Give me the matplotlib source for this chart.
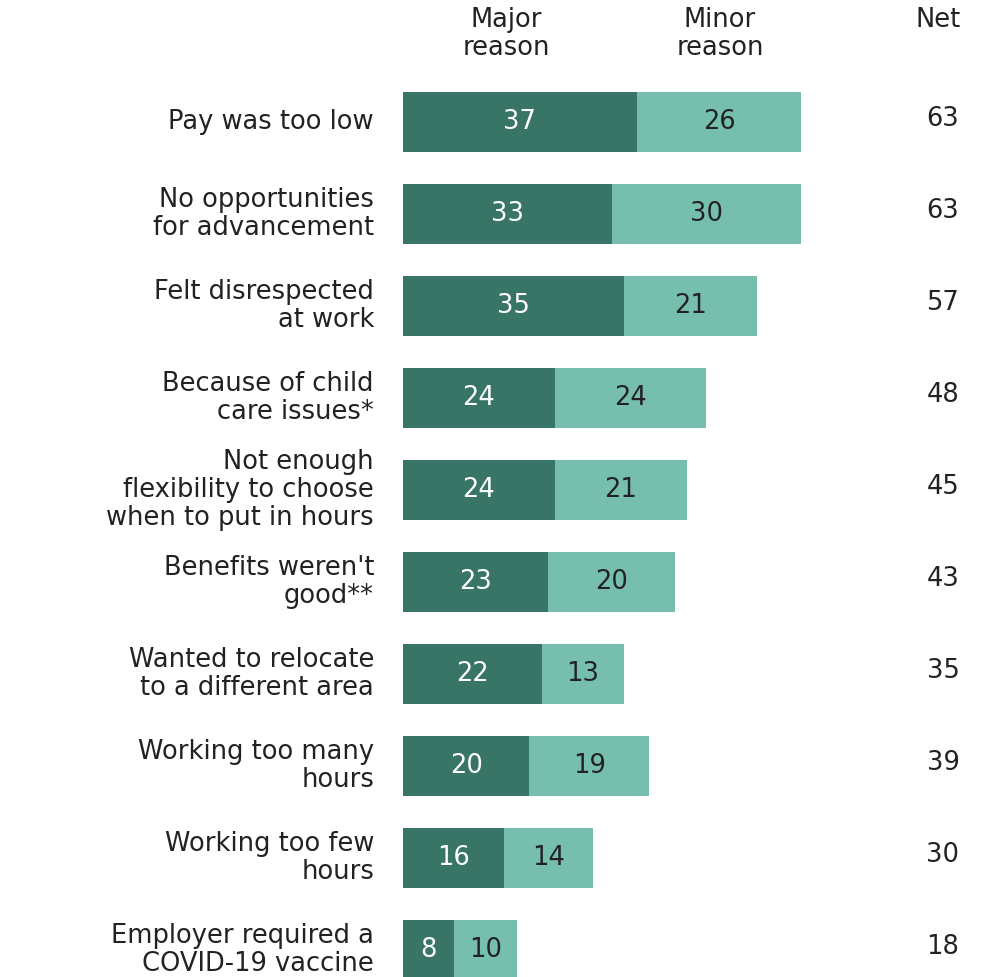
import matplotlib
matplotlib.use("Agg")
import matplotlib.pyplot as plt

categories = [
    "Pay was too low",
    "No opportunities\nfor advancement",
    "Felt disrespected\nat work",
    "Because of child\ncare issues*",
    "Not enough\nflexibility to choose\nwhen to put in hours",
    "Benefits weren't\ngood**",
    "Wanted to relocate\nto a different area",
    "Working too many\nhours",
    "Working too few\nhours",
    "Employer required a\nCOVID-19 vaccine",
]
major = [37, 33, 35, 24, 24, 23, 22, 20, 16, 8]
minor = [26, 30, 21, 24, 21, 20, 13, 19, 14, 10]
net = [63, 63, 57, 48, 45, 43, 35, 39, 30, 18]

DARK = "#387566"
LIGHT = "#76bfae"
TXT = "#222222"

W, H = 990, 977
fig = plt.figure(figsize=(W / 100, H / 100), dpi=100)
ax = fig.add_axes([0, 0, 1, 1])
ax.set_axis_off()

px_per_unit = 6.32
x0 = 403
row_px = 92
first_row = 122
ax.set_xlim(-x0 / px_per_unit, (W - x0) / px_per_unit)
ax.set_ylim((H - first_row) / row_px, -first_row / row_px)

plt.rcParams['font.family'] = ['DejaVu Sans']
fs = 18.5
ls = 1.12

ys = list(range(len(categories)))
ax.barh(ys, major, height=0.655, color=DARK, linewidth=0)
ax.barh(ys, minor, left=major, height=0.655, color=LIGHT, linewidth=0)

label_x = (374 - x0) / px_per_unit
net_x = (943 - x0) / px_per_unit
for i, (c, a, b, n) in enumerate(zip(categories, major, minor, net)):
    ax.text(label_x, i, c, ha="right", va="center", fontsize=fs, color=TXT,
            linespacing=ls)
    ax.text(a / 2, i, str(a), ha="center", va="center", fontsize=fs, color="white")
    ax.text(a + b / 2, i, str(b), ha="center", va="center", fontsize=fs, color=TXT)
    ax.text(net_x, i - 0.03, str(n), ha="center", va="center", fontsize=fs, color=TXT)

hy = (34 - first_row) / row_px
ax.text((506 - x0) / px_per_unit, hy, "Major\nreason", ha="center", va="center",
        fontsize=fs, color=TXT, linespacing=ls)
ax.text((720 - x0) / px_per_unit, hy, "Minor\nreason", ha="center", va="center",
        fontsize=fs, color=TXT, linespacing=ls)
ax.text((938 - x0) / px_per_unit, (20 - first_row) / row_px, "Net", ha="center",
        va="center", fontsize=fs, color=TXT)

fig.savefig("out.png", dpi=100)
